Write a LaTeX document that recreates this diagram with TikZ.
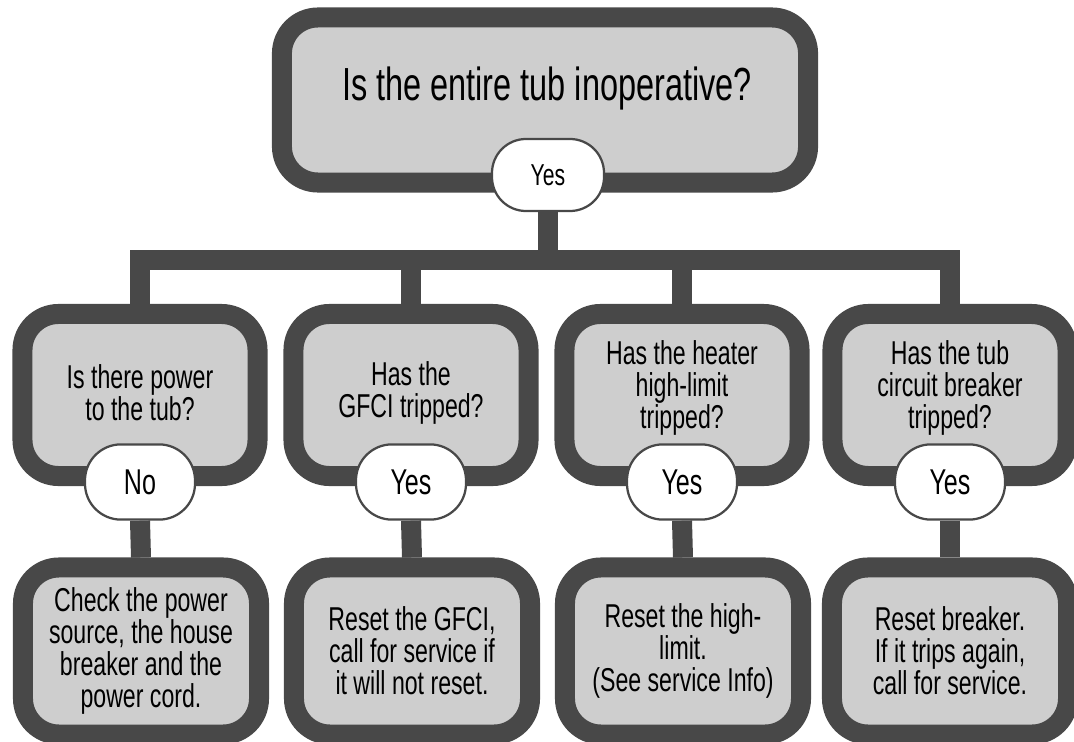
\documentclass[tikz,border=0pt]{standalone}
\usepackage{fontspec}
\setmainfont[FakeStretch=0.70]{Liberation Sans}
\usetikzlibrary{backgrounds}

\definecolor{rim}{RGB}{72,72,72}
\definecolor{panel}{RGB}{206,206,206}

\begin{document}
\begin{tikzpicture}[x=0.025cm,y=-0.025cm]
                \tikzset{box/.style = {shape=rectangle,draw=rim,fill=panel,line width=0.5cm,rounded corners=0.9cm}}
                \tikzset{question/.style = {box,minimum width=5.875cm,minimum height=4.05cm}}
                \tikzset{action/.style = {box,minimum width=5.9cm,minimum height=4.175cm,align=center,font={\fontsize{23.5}{22.8}\selectfont}}}
                \tikzset{answer/.style = {shape=rectangle,draw=rim,fill=white,line width=1.6pt,rounded corners=0.9cm,minimum width=2.75cm,minimum height=1.88cm,font={\fontsize{25.5}{26}\selectfont}}}
                \tikzset{qtext/.style = {align=center,font={\fontsize{23.5}{22.8}\selectfont}}}
                \tikzset{link/.style = {draw=rim,line width=0.5cm}}
                \useasboundingbox (0,0) rectangle (1074,742);
                % boxes
                \node[box,minimum width=13.15cm,minimum height=4.125cm] (tub) at (545,100) {};
                \node[anchor=base,font={\fontsize{33}{34}\selectfont}] (tubq) at (547,101) {Is the entire tub inoperative?};
                \node[answer,minimum width=2.8cm,minimum height=1.8cm,rounded corners=0.85cm,font={\fontsize{21.5}{22}\selectfont}] (tuba) at (548,175) {Yes};

                \node[question] (power) at (140,395) {};
                \node[qtext] (powerq) at (140,393) {Is there power\\to the tub?};
                \node[answer] (powera) at (140,482) {No};
                \node[action] (check) at (141,651) {Check the power\\source, the house\\breaker and the\\power cord.};

                \node[question] (gfci) at (411,395) {};
                \node[qtext] (gfciq) at (411,393) {Has the\\GFCI tripped?};
                \node[answer] (gfcia) at (411,482) {Yes};
                \node[action] (resetg) at (412,651) {Reset the GFCI,\\call for service if\\it will not reset.};

                \node[question] (heater) at (682,395) {};
                \node[qtext] (heaterq) at (682,388) {Has the heater\\high-limit\\tripped?};
                \node[answer] (heatera) at (682,482) {Yes};
                \node[action] (reseth) at (683,651) {Reset the high-\\limit.\\(See service Info)};

                \node[question] (breaker) at (950,395) {};
                \node[qtext] (breakerq) at (950,388) {Has the tub\\circuit breaker\\tripped?};
                \node[answer] (breakera) at (950,482) {Yes};
                \node[action] (resetb) at (950,651) {Reset breaker.\\If it trips again,\\call for service.};

                %edges
                \coordinate (split) at (550,260);
                \begin{scope}[on background layer]
                \draw[link] (tuba.south) -- (tuba.south |- split);
                \draw[link,line cap=rect] (power.north |- split) -- (breaker.north |- split);
                \draw[link] (power.north |- split) -- (power.north);
                \draw[link] (gfci.north |- split) -- (gfci.north);
                \draw[link] (heater.north |- split) -- (heater.north);
                \draw[link] (breaker.north |- split) -- (breaker.north);
                \draw[link] (powera.south) -- (check.north);
                \draw[link] (gfcia.south) -- (resetg.north);
                \draw[link] (heatera.south) -- (reseth.north);
                \draw[link] (breakera.south) -- (resetb.north);
                \end{scope}
\end{tikzpicture}
\end{document}
